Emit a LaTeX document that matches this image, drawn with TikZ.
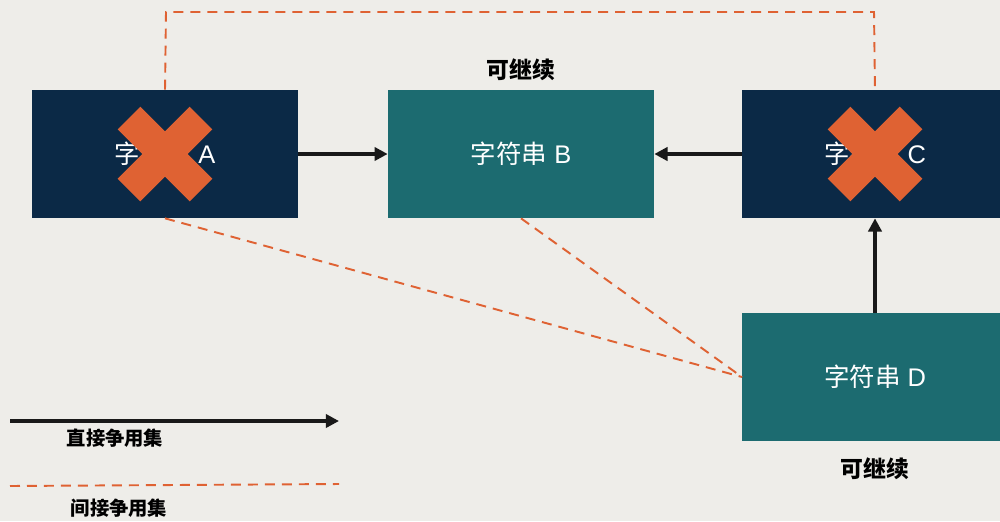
\documentclass[tikz,border=0pt]{standalone}
\usepackage{fontspec}
\setmainfont{Liberation Sans}
\newfontfamily\cjk{Noto Sans CJK SC}
\usetikzlibrary{arrows.meta}
\definecolor{bgcol}{HTML}{EEEDE9}
\definecolor{navy}{HTML}{0B2946}
\definecolor{tealbox}{HTML}{1C6B70}
\definecolor{crossor}{HTML}{DF6233}
\tikzstyle{strbox}=[minimum width=5.32cm,minimum height=2.56cm,inner sep=0,text=white,font=\fontsize{14.5}{16}\selectfont]
\tikzstyle{blocked}=[strbox,fill=navy]
\tikzstyle{free}=[strbox,fill=tealbox]
\tikzstyle{direct}=[line width=2.1pt,draw=black!90,-{Triangle[length=7.5pt,width=7.5pt]}]
\tikzstyle{indirect}=[line width=1.1pt,draw=crossor,dash pattern=on 0.2cm off 0.14cm]
\tikzstyle{note}=[font=\cjk\fontsize{13}{15}\selectfont\bfseries]

\begin{document}
\begin{tikzpicture}[x=0.02cm,y=-0.02cm]
\fill[bgcol] (0,0) rectangle (1000,521);
\useasboundingbox (0,0) rectangle (1000,521);

\node[blocked] (A) at (165,154) {{\cjk 字符串} A};
\node[free] (B) at (521,154) {{\cjk 字符串} B};
\node[blocked] (C) at (875,154) {{\cjk 字符串} C};
\node[free] (D) at (875,377) {{\cjk 字符串} D};

% crosses
\foreach \n in {A,C} {
  \draw[crossor,line width=0.64cm] (\n.center) ++(-36,-36) -- ++(72,72);
  \draw[crossor,line width=0.64cm] (\n.center) ++(36,-36) -- ++(-72,72);
}

\node[note] (contB) at (521,70) {可继续};
\node[note] (contD) at (875,469) {可继续};

% direct
\draw[direct] (A.east) -- (B.west);
\draw[direct] (C.west) -- (B.east);
\draw[direct] (D.north) -- (C.south);

% indirect
\coordinate (topA) at (166,12);
\coordinate (topC) at (874,12);
\coordinate (Dhit) at (742,377);
\draw[indirect] (A.north) -- (topA) -- (topC) -- (C.north);
\draw[indirect] (A.south) -- (Dhit);
\draw[indirect] (B.south) -- (Dhit);

% legend
\coordinate (l1s) at (10,421);
\coordinate (l1e) at (339,421);
\coordinate (l2s) at (10,486);
\coordinate (l2e) at (339,484);
\draw[direct] (l1s) -- (l1e);
\draw[indirect] (l2s) -- (l2e);
\node[font=\cjk\fontsize{11}{13}\selectfont\bfseries] (ldirect) at (115,438) {直接争用集};
\node[font=\cjk\fontsize{11}{13}\selectfont\bfseries] (lindirect) at (119,508) {间接争用集};
\end{tikzpicture}
\end{document}
